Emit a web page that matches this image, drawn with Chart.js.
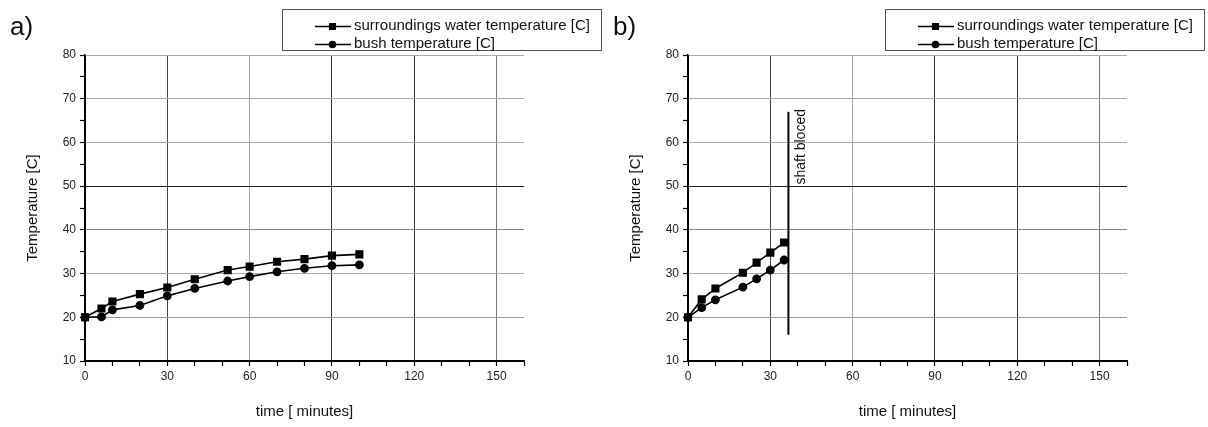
<!DOCTYPE html>
<html>
<head>
<meta charset="utf-8">
<script src="https://cdn.jsdelivr.net/npm/chart.js@4.4.1/dist/chart.umd.min.js"></script>
<style>
  body { margin: 0; background: #fff; font-family: "Liberation Sans", Arial, sans-serif; }
  #page { position: relative; width: 1208px; height: 427px; overflow: hidden; }
  .panel { position: absolute; top: 0; width: 604px; height: 427px; }
  .tag { position: absolute; left: 10px; top: 11px; font-size: 26px; color: #111; }
  .legend { position: absolute; left: 282px; top: 9px; width: 320px; height: 42px;
            border: 1px solid #555; box-sizing: border-box; font-size: 15px; color: #111; }
  .legend .row { position: absolute; left: 32px; height: 18px; line-height: 18px; white-space: nowrap; }
  .legend svg { vertical-align: middle; margin-right: 3px; }
</style>
</head>
<body>
<div id="page">
  <div class="panel" style="left:0">
    <canvas id="chart-a" width="604" height="427"></canvas>
    <div class="tag">a)</div>
    <div class="legend" id="legend-a"></div>
  </div>
  <div class="panel" style="left:603px">
    <canvas id="chart-b" width="604" height="427"></canvas>
    <div class="tag">b)</div>
    <div class="legend" id="legend-b"></div>
  </div>
</div>
<script>
// Panel a) values
var time_a = [0, 6, 10, 20, 30, 40, 52, 60, 70, 80, 90, 100];
var water_a = [20, 22.0, 23.6, 25.3, 26.8, 28.7, 30.8, 31.6, 32.7, 33.3, 34.1, 34.4];
var bush_a = [20, 20.1, 21.7, 22.7, 24.9, 26.6, 28.3, 29.3, 30.4, 31.2, 31.8, 32.0];

// Panel b) values
var time_b = [0, 5, 10, 20, 25, 30, 35];
var water_b = [20, 24.1, 26.6, 30.2, 32.5, 34.8, 37.1];
var bush_b = [20, 22.2, 24.0, 26.9, 28.8, 30.8, 33.1];

// Shaft blocked marker (panel b)
var shaft_time = [36.6, 36.6];
var shaft_temp = [16, 67];
var shaft_label = 'shaft bloced';

var series_labels = ['surroundings water temperature [C]', 'bush temperature [C]'];
var x_ticks = [0, 30, 60, 90, 120, 150];
var y_ticks = [10, 20, 30, 40, 50, 60, 70, 80];

var FONT = '"Liberation Sans", Arial, sans-serif';

function pairs(xs, ys) {
    return xs.map(function (x, i) { return { x: x, y: ys[i] }; });
}

// Origin-style grid: some lines darker than others
var xGridShade = { 0: '#000', 30: '#444', 60: '#aaa', 90: '#333', 120: '#333', 150: '#777' };
var yGridShade = { 10: '#000', 20: '#999', 30: '#aaa', 40: '#888', 50: '#222', 60: '#aaa', 70: '#aaa', 80: '#aaa' };

// Draws the rotated "shaft bloced" note next to the vertical line
var shaftNote = {
    id: 'shaftNote',
    afterDatasetsDraw: function (chart, args, opts) {
        if (!opts.text) return;
        var ctx = chart.ctx;
        var px = chart.scales.x.getPixelForValue(opts.x);
        var py = chart.scales.y.getPixelForValue(opts.y);
        ctx.save();
        ctx.translate(px, py);
        ctx.rotate(-Math.PI / 2);
        ctx.font = '14px ' + FONT;
        ctx.fillStyle = '#111';
        ctx.textAlign = 'center';
        ctx.textBaseline = 'middle';
        ctx.fillText(opts.text, 0, 0);
        ctx.restore();
    }
};

function makeChart(id, time, water, bush, extra, note) {
    var datasets = [
        {
            label: series_labels[0],
            data: pairs(time, water),
            borderColor: '#000', backgroundColor: '#000',
            borderWidth: 1.6, pointStyle: 'rect', pointRadius: 4.6,
            clip: false
        },
        {
            label: series_labels[1],
            data: pairs(time, bush),
            borderColor: '#000', backgroundColor: '#000',
            borderWidth: 1.6, pointStyle: 'circle', pointRadius: 3.6,
            clip: false
        }
    ];
    if (extra) datasets.push(extra);

    return new Chart(document.getElementById(id), {
        type: 'line',
        data: { datasets: datasets },
        plugins: [shaftNote],
        options: {
            responsive: false,
            animation: false,
            devicePixelRatio: 1,
            layout: { padding: { left: 0, right: 80, top: 55, bottom: 0 } },
            plugins: {
                legend: { display: false },
                tooltip: { enabled: false },
                shaftNote: note || {}
            },
            scales: {
                x: {
                    type: 'linear', min: 0, max: 160,
                    afterFit: function (s) { s.height = 66; },
                    afterBuildTicks: function (s) {
                        s.ticks = [];
                        for (var v = 0; v <= 160; v += 10) s.ticks.push({ value: v });
                    },
                    ticks: {
                        autoSkip: false, maxRotation: 0, padding: 3, color: '#222',
                        font: { family: FONT, size: 12 },
                        callback: function (v) { return x_ticks.indexOf(v) >= 0 ? String(v) : ''; }
                    },
                    grid: {
                        lineWidth: 1, tickLength: 5, tickWidth: 1.2, tickColor: '#000',
                        color: function (c) {
                            var v = c.tick ? c.tick.value : -1;
                            return x_ticks.indexOf(v) >= 0 ? xGridShade[v] : 'rgba(0,0,0,0)';
                        }
                    },
                    border: { color: '#000', width: 1.5 },
                    title: {
                        display: true, text: 'time [ minutes]', color: '#111',
                        font: { family: FONT, size: 15 }, padding: { top: 0, bottom: 6 }
                    }
                },
                y: {
                    type: 'linear', min: 10, max: 80,
                    afterFit: function (s) { s.width = 85; },
                    afterBuildTicks: function (s) {
                        s.ticks = [];
                        for (var v = 10; v <= 80; v += 5) s.ticks.push({ value: v });
                    },
                    ticks: {
                        autoSkip: false, padding: 4, color: '#222',
                        font: { family: FONT, size: 12 },
                        callback: function (v) { return y_ticks.indexOf(v) >= 0 ? String(v) : ''; }
                    },
                    grid: {
                        lineWidth: 1, tickLength: 5, tickWidth: 1.2, tickColor: '#000',
                        color: function (c) {
                            var v = c.tick ? c.tick.value : -1;
                            return y_ticks.indexOf(v) >= 0 ? yGridShade[v] : 'rgba(0,0,0,0)';
                        }
                    },
                    border: { color: '#000', width: 1.5 },
                    title: {
                        display: true, text: 'Temperature [C]', color: '#111',
                        font: { family: FONT, size: 15 }, padding: { top: 24, bottom: 0 }
                    }
                }
            }
        }
    });
}

// HTML legend: line with marker, then label
function fillLegend(id) {
    var el = document.getElementById(id);
    var markers = [
        '<rect x="14" y="5" width="7" height="7" fill="#000"/>',
        '<circle cx="17.5" cy="8.5" r="3.8" fill="#000"/>'
    ];
    series_labels.forEach(function (label, i) {
        var row = document.createElement('div');
        row.className = 'row';
        row.style.top = (i === 0 ? 6 : 24) + 'px';
        row.innerHTML = '<svg width="36" height="17"><line x1="0" y1="8.5" x2="36" y2="8.5" stroke="#000" stroke-width="1.5"/>' +
            markers[i] + '</svg>' + label;
        el.appendChild(row);
    });
}

var chart_a = makeChart('chart-a', time_a, water_a, bush_a);

var chart_b = makeChart('chart-b', time_b, water_b, bush_b, {
    label: 'shaft',
    data: pairs(shaft_time, shaft_temp),
    borderColor: '#000', borderWidth: 2, pointRadius: 0
}, { text: shaft_label, x: 41.3, y: 59 });

fillLegend('legend-a');
fillLegend('legend-b');
</script>
</body>
</html>
